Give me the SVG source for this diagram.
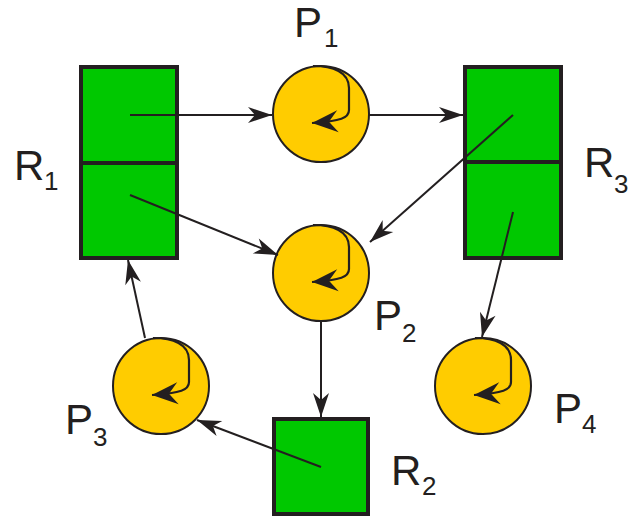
<svg xmlns="http://www.w3.org/2000/svg" width="635" height="519" viewBox="0 0 635 519">
<defs>
<style>
.res{fill:#00C800;stroke:#231F20;stroke-width:4}
.div{stroke:#231F20;stroke-width:4}
.proc{fill:#FFCC00;stroke:#231F20;stroke-width:2}
.loop{fill:none;stroke:#231F20;stroke-width:2.2}
.edge{fill:none;stroke:#231F20;stroke-width:2}
.lbl{font-family:"Liberation Sans",Arial,sans-serif;font-size:42px;fill:#231F20}
.sub{font-size:26px}
</style>
<marker id="ah" markerUnits="userSpaceOnUse" viewBox="-26 -10 28 20" refX="0" refY="0" markerWidth="28" markerHeight="20" orient="auto">
<path d="M0,0 L-24,-8 L-17,0 L-24,8 Z" fill="#231F20"/>
</marker>
<marker id="lh" markerUnits="userSpaceOnUse" viewBox="-28 -13 30 26" refX="0" refY="0" markerWidth="30" markerHeight="26" orient="auto">
<path d="M0,0 L-26,-11 L-17,0 L-26,11 Z" fill="#231F20"/>
</marker>
</defs>
<g id="R1">
<rect class="res" x="81" y="67" width="96" height="191"/>
<line class="div" x1="81" y1="163" x2="177" y2="163"/>
<text class="lbl" x="14" y="180">R<tspan class="sub" x="44" y="190">1</tspan></text>
</g>
<g id="R3">
<rect class="res" x="465" y="67" width="96" height="191"/>
<line class="div" x1="465" y1="162" x2="561" y2="162"/>
<text class="lbl" x="584" y="177">R<tspan class="sub" x="614" y="193">3</tspan></text>
</g>
<g id="R2">
<rect class="res" x="274" y="419" width="94" height="95"/>
<text class="lbl" x="391" y="485">R<tspan class="sub" x="422" y="495">2</tspan></text>
</g>
<g id="P1">
<circle class="proc" cx="321" cy="114" r="48"/>
<path class="loop" transform="translate(321,114)" d="M-8,-48 C12,-48 28,-42 28,-26 L28,-4 C28,4 20,7 -9,9" marker-end="url(#lh)"/>
<text class="lbl" x="294" y="37">P<tspan class="sub" x="324" y="47">1</tspan></text>
</g>
<g id="P2">
<circle class="proc" cx="321" cy="273" r="48"/>
<path class="loop" transform="translate(321,273)" d="M-8,-48 C12,-48 28,-42 28,-26 L28,-4 C28,4 20,7 -9,9" marker-end="url(#lh)"/>
<text class="lbl" x="374" y="330">P<tspan class="sub" x="402" y="342">2</tspan></text>
</g>
<g id="P3">
<circle class="proc" cx="161" cy="386" r="48"/>
<path class="loop" transform="translate(161,386)" d="M-8,-48 C12,-48 28,-42 28,-26 L28,-4 C28,4 20,7 -9,9" marker-end="url(#lh)"/>
<text class="lbl" x="65" y="434">P<tspan class="sub" x="93" y="446">3</tspan></text>
</g>
<g id="P4">
<circle class="proc" cx="483" cy="386" r="48"/>
<path class="loop" transform="translate(483,386)" d="M-8,-48 C12,-48 28,-42 28,-26 L28,-4 C28,4 20,7 -9,9" marker-end="url(#lh)"/>
<text class="lbl" x="554" y="423">P<tspan class="sub" x="582" y="433">4</tspan></text>
</g>
<g id="connectors">
<path class="edge" d="M130,115 L272,115" marker-end="url(#ah)"/>
<path class="edge" d="M369,115 L463,115" marker-end="url(#ah)"/>
<path class="edge" d="M513,115 L370,242" marker-end="url(#ah)"/>
<path class="edge" d="M130,195 L278,255" marker-end="url(#ah)"/>
<path class="edge" d="M513,212 L482,337" marker-end="url(#ah)"/>
<path class="edge" d="M321,322 L321,417" marker-end="url(#ah)"/>
<path class="edge" d="M321,467 L197,420" marker-end="url(#ah)"/>
<path class="edge" d="M145,338 L128,260" marker-end="url(#ah)"/>
</g>
</svg>
